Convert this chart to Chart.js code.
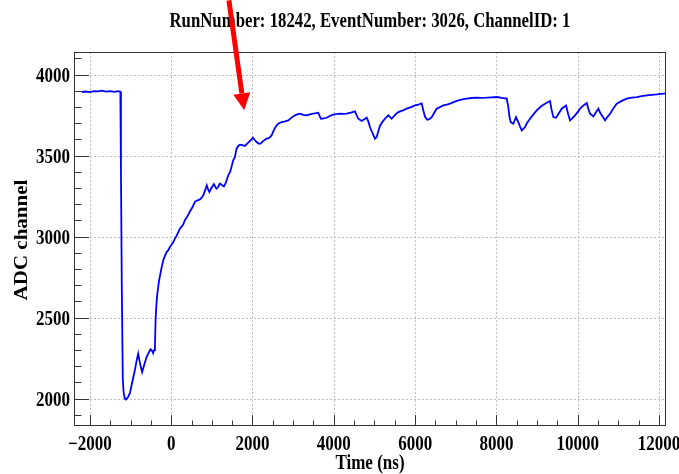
<!DOCTYPE html>
<html>
<head>
<meta charset="utf-8">
<script src="https://cdn.jsdelivr.net/npm/chart.js@4"></script>
<style>
  html, body { margin: 0; padding: 0; background: #fff; }
  canvas { display: block; }
</style>
</head>
<body>
<canvas id="wave" width="679" height="474"></canvas>
<script>
// Labels
const titleText = 'RunNumber: 18242, EventNumber: 3026, ChannelID: 1';
const xAxisTitle = 'Time (ns)';
const yAxisTitle = 'ADC channel';

// Axis ranges and tick labels
const xRange = [-2390, 12170];
const yRange = [1831, 4140];
const xTickValues = [-2000, 0, 2000, 4000, 6000, 8000, 10000, 12000];
const yTickValues = [2000, 2500, 3000, 3500, 4000];

// Waveform samples: time (ns) and ADC counts
const timeNs = [
  -2200, -2100, -2000, -1900, -1800, -1700, -1600, -1500, -1400, -1300, -1250,
  -1235, -1215, -1190, -1170, -1140, -1112, -1060, -1013, -950, -893, -850,
  -812, -760, -714, -660, -605, -550, -507, -470, -443, -420, -400,
  -385, -365, -340, -300, -278, -230, -195, -155, -113, -74, -32,
  9, 50, 91, 132, 175, 214, 255, 296, 337, 400, 460, 520, 583, 625, 665,
  706, 750, 789, 840, 875, 910, 940, 990, 1051, 1100, 1117, 1160, 1198,
  1240, 1297, 1340, 1403, 1450, 1526, 1567, 1609, 1650, 1690, 1750, 1813,
  1850, 1895, 1950, 2010, 2060, 2101, 2150, 2200, 2260, 2347, 2410, 2470,
  2530, 2594, 2650, 2717, 2800, 2880, 2960, 3044, 3100, 3167, 3250, 3332,
  3410, 3494, 3560, 3617, 3650, 3684, 3750, 3824, 3900, 3986, 4070, 4151,
  4230, 4316, 4420, 4520, 4560, 4602, 4684, 4750, 4808, 4850, 4889, 4950,
  5012, 5054, 5135, 5200, 5258, 5340, 5380, 5423, 5500, 5586, 5700, 5792,
  5900, 5997, 6080, 6161, 6200, 6243, 6299, 6350, 6408, 6470, 6531, 6610,
  6693, 6780, 6858, 6960, 7062, 7160, 7268, 7390, 7515, 7640, 7761, 7880,
  8007, 8130, 8253, 8292, 8320, 8351, 8415, 8450, 8482, 8510, 8538, 8580,
  8622, 8660, 8703, 8760, 8826, 8910, 8991, 9100, 9195, 9260, 9318, 9350,
  9400, 9466, 9530, 9606, 9660, 9712, 9760, 9810, 9870, 9934, 10000, 10057,
  10140, 10221, 10260, 10303, 10385, 10450, 10508, 10550, 10590, 10672, 10730,
  10795, 10870, 10959, 11080, 11205, 11330, 11451, 11570, 11697, 11820, 11943,
  12060, 12160
];
const adcCounts = [
  3893, 3896, 3892, 3898, 3897, 3901, 3896, 3899, 3894, 3898, 3895,
  3400, 2700, 2120, 2040, 2000, 1995, 2010, 2035, 2110, 2175, 2235,
  2278, 2210, 2164, 2210, 2257, 2285, 2305, 2295, 2280, 2300, 2312,
  2470, 2575, 2650, 2725, 2755, 2815, 2854, 2880, 2905, 2915, 2936,
  2950, 2965, 2988, 3005, 3028, 3049, 3062, 3075, 3101, 3125, 3155, 3180, 3215, 3222, 3226,
  3230, 3240, 3255, 3290, 3317, 3290, 3275, 3300, 3325, 3300, 3296, 3310, 3328,
  3320, 3310, 3330, 3378, 3400, 3471, 3490, 3543, 3560, 3568, 3565, 3560,
  3570, 3580, 3595, 3611, 3595, 3584, 3575, 3574, 3590, 3605, 3610, 3625,
  3660, 3687, 3700, 3707, 3712, 3718, 3735, 3749, 3755, 3759, 3752, 3749,
  3755, 3759, 3762, 3765, 3745, 3728, 3730, 3734, 3745, 3753, 3757, 3759,
  3758, 3760, 3766, 3773, 3750, 3728, 3714, 3725, 3735, 3710, 3677, 3640,
  3605, 3615, 3685, 3710, 3728, 3749, 3740, 3728, 3750, 3769, 3780, 3790,
  3800, 3810, 3815, 3822, 3780, 3740, 3722, 3725, 3738, 3765, 3790, 3800,
  3810, 3815, 3821, 3832, 3841, 3848, 3852, 3856, 3858, 3857, 3858, 3860,
  3862, 3857, 3852, 3800, 3740, 3707, 3697, 3720, 3738, 3720, 3707, 3680,
  3656, 3665, 3677, 3705, 3728, 3755, 3780, 3805, 3821, 3830, 3837, 3790,
  3738, 3734, 3760, 3790, 3800, 3810, 3760, 3718, 3732, 3749, 3770, 3790,
  3810, 3825, 3790, 3759, 3742, 3770, 3790, 3765, 3749, 3718, 3740,
  3759, 3790, 3821, 3838, 3852, 3858, 3862, 3867, 3872, 3875, 3878,
  3882, 3885
];

// Arrow annotation, in data coordinates (ns, ADC)
const arrowTail = [1420, 4459];
const arrowTip = [1796, 3780];

const FONT = '"Liberation Serif", "Times New Roman", serif';
const SQUEEZE = 0.85;

// Bold serif text, narrowed horizontally on screen
function squeezedText(ctx, text, x, y, size, align, rotate, squeeze) {
  const k = squeeze || SQUEEZE;
  ctx.save();
  ctx.translate(x, y);
  if (rotate) {
    ctx.rotate(-Math.PI / 2);
    ctx.scale(1, k);
  } else {
    ctx.scale(k, 1);
  }
  ctx.font = 'bold ' + size + 'px ' + FONT;
  ctx.textAlign = align;
  ctx.textBaseline = 'alphabetic';
  ctx.fillStyle = '#000';
  ctx.fillText(text, 0, 0);
  ctx.restore();
}

// Dotted grid at the labelled ticks, under the trace
const dottedGrid = {
  id: 'dottedGrid',
  beforeDatasetsDraw(chart) {
    const ctx = chart.ctx;
    const area = chart.chartArea;
    const xs = chart.scales.x;
    const ys = chart.scales.y;
    ctx.save();
    ctx.strokeStyle = '#bdbdbd';
    ctx.lineWidth = 1;
    ctx.setLineDash([2, 2]);
    ctx.beginPath();
    xTickValues.forEach(v => {
      const x = Math.round(xs.getPixelForValue(v)) + 0.5;
      ctx.moveTo(x, area.top);
      ctx.lineTo(x, area.bottom);
    });
    yTickValues.forEach(v => {
      const y = Math.round(ys.getPixelForValue(v)) + 0.5;
      ctx.moveTo(area.left, y);
      ctx.lineTo(area.right, y);
    });
    ctx.stroke();
    ctx.restore();
  }
};

// Frame, inner ticks, labels, titles and the arrow
const decorations = {
  id: 'decorations',
  afterDraw(chart) {
    const ctx = chart.ctx;
    const area = chart.chartArea;
    const xs = chart.scales.x;
    const ys = chart.scales.y;

    ctx.save();
    ctx.strokeStyle = '#333';
    ctx.lineWidth = 1;
    ctx.strokeRect(area.left + 0.5, area.top + 0.5, area.right - area.left - 1, area.bottom - area.top - 1);

    ctx.beginPath();
    for (let v = 1900; v <= 4100; v += 100) {
      const y = Math.round(ys.getPixelForValue(v)) + 0.5;
      const len = v % 500 === 0 ? 15 : 7.5;
      ctx.moveTo(area.left, y);
      ctx.lineTo(area.left + len, y);
    }
    for (let v = -2000; v <= 12000; v += 500) {
      const x = Math.round(xs.getPixelForValue(v)) + 0.5;
      const len = v % 2000 === 0 ? 11 : 5.5;
      ctx.moveTo(x, area.bottom);
      ctx.lineTo(x, area.bottom - len);
    }
    ctx.stroke();
    ctx.restore();

    yTickValues.forEach(v => {
      squeezedText(ctx, String(v), area.left - 4, ys.getPixelForValue(v) + 7, 20, 'right');
    });
    xTickValues.forEach(v => {
      const label = v < 0 ? '\u2212' + Math.abs(v) : String(v);
      squeezedText(ctx, label, xs.getPixelForValue(v), area.bottom + 24, 20, 'center');
    });

    squeezedText(ctx, xAxisTitle, (area.left + area.right) / 2, 469, 20, 'center');
    squeezedText(ctx, yAxisTitle, 27, 240, 21, 'center', true);

    ctx.save();
    ctx.font = 'bold 20px ' + FONT;
    const w = ctx.measureText(titleText).width;
    ctx.restore();
    squeezedText(ctx, titleText, 370, 27, 20, 'center', false, 401 / w);

    // red arrow
    const tx = xs.getPixelForValue(arrowTail[0]), ty = ys.getPixelForValue(arrowTail[1]);
    const hx = xs.getPixelForValue(arrowTip[0]), hy = ys.getPixelForValue(arrowTip[1]);
    const ang = Math.atan2(hy - ty, hx - tx);
    const headLen = 17, headHalf = 8.5;
    const bx = hx - headLen * Math.cos(ang), by = hy - headLen * Math.sin(ang);
    ctx.save();
    ctx.strokeStyle = '#ff0000';
    ctx.fillStyle = '#ff0000';
    ctx.lineWidth = 5;
    ctx.beginPath();
    ctx.moveTo(tx, ty);
    ctx.lineTo(bx, by);
    ctx.stroke();
    ctx.beginPath();
    ctx.moveTo(hx, hy);
    ctx.lineTo(bx + headHalf * Math.sin(ang), by - headHalf * Math.cos(ang));
    ctx.lineTo(bx - headHalf * Math.sin(ang), by + headHalf * Math.cos(ang));
    ctx.closePath();
    ctx.fill();
    ctx.restore();
  }
};

const points = timeNs.map((t, i) => ({ x: t, y: adcCounts[i] }));

new Chart(document.getElementById('wave'), {
  type: 'line',
  data: {
    datasets: [{
      data: points,
      borderColor: '#0000ff',
      borderWidth: 1.8,
      pointRadius: 0,
      tension: 0,
      fill: false
    }]
  },
  options: {
    responsive: false,
    animation: false,
    devicePixelRatio: 1,
    layout: { padding: { left: 0, right: 13, top: 52, bottom: 0 } },
    plugins: { legend: { display: false }, tooltip: { enabled: false }, title: { display: false } },
    scales: {
      x: {
        type: 'linear',
        min: xRange[0],
        max: xRange[1],
        afterFit(scale) { scale.height = 48; },
        ticks: { display: false, stepSize: 2000, includeBounds: false },
        grid: { display: false },
        border: { display: false }
      },
      y: {
        type: 'linear',
        min: yRange[0],
        max: yRange[1],
        afterFit(scale) { scale.width = 74; },
        ticks: { display: false, stepSize: 500, includeBounds: false },
        grid: { display: false },
        border: { display: false }
      }
    }
  },
  plugins: [dottedGrid, decorations]
});
</script>
</body>
</html>
